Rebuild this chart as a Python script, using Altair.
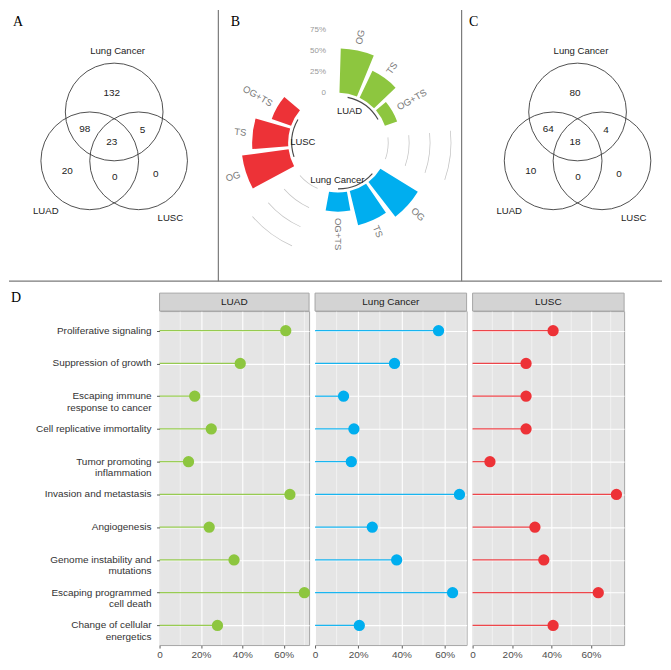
import altair as alt
import pandas as pd

FONT = "Liberation Sans"
SERIF = "Liberation Serif"

# ---------------- Panels A and C: Venn diagrams ----------------
venn_sets = ["Lung Cancer", "LUAD", "LUSC"]
venn_circle_x = [0.0, -0.5, 0.5]          # in circle-radius units
venn_circle_y = [0.0, -1.0, -1.0]
venn_setlabel_x = [0.07, -1.40, 1.15]
venn_setlabel_y = [1.24, -2.03, -2.17]

venn_regions = ["LC only", "LC+LUAD", "LC+LUSC", "LC+LUAD+LUSC", "LUAD only", "LUAD+LUSC", "LUSC only"]
venn_region_x = [-0.05, -0.60, 0.58, -0.05, -0.96, 0.01, 0.85]
venn_region_y = [0.38, -0.35, -0.36, -0.61, -1.20, -1.34, -1.27]
venn_A_counts = [132, 98, 5, 23, 20, 0, 0]
venn_C_counts = [80, 64, 4, 18, 10, 0, 0]

# ---------------- Panel B: circular bar chart ----------------
groups = ["LUAD", "Lung Cancer", "LUSC"]
gene_types = ["OG", "TS", "OG+TS"]
luad_type_pct = [0.53, 0.355, 0.155]
lc_type_pct = [0.525, 0.42, 0.23]
lusc_type_pct = [0.56, 0.43, 0.245]
radial_ticks = [0, 0.25, 0.5, 0.75]
radial_tick_labels = ["0", "25%", "50%", "75%"]
group_label_slot = [0.83, 7.54, 11.29]
group_label_r = [-0.19, -0.15, -0.175]

# ---------------- Panel D: lollipops ----------------
hallmarks = [
    "Proliferative signaling",
    "Suppression of growth",
    "Escaping immune\nresponse to cancer",
    "Cell replicative immortality",
    "Tumor promoting\ninflammation",
    "Invasion and metastasis",
    "Angiogenesis",
    "Genome instability and\nmutations",
    "Escaping programmed\ncell death",
    "Change of cellular\nenergetics",
]
luad_pct = [0.61, 0.39, 0.17, 0.25, 0.14, 0.63, 0.24, 0.36, 0.70, 0.28]
lc_pct = [0.572, 0.368, 0.132, 0.18, 0.168, 0.669, 0.265, 0.378, 0.637, 0.205]
lusc_pct = [0.408, 0.271, 0.271, 0.271, 0.088, 0.729, 0.316, 0.361, 0.637, 0.408]
major_ticks = [0, 0.2, 0.4, 0.6]
minor_grid = [0.1, 0.3, 0.5, 0.7]

group_colors = ["#8DC63F", "#00AEEF", "#ED3237"]

TOP_W, TOP_H = 655, 272
SEP_COLOR = "#7a7a7a"
ONE = alt.Data(values=[{}])


def rule_h(x0, x1, y):
    return alt.Chart(ONE).mark_rule(color=SEP_COLOR, strokeWidth=1.2).encode(
        x=alt.value(x0), x2=alt.value(x1), y=alt.value(y))


def rule_v(x, y0, y1):
    return alt.Chart(ONE).mark_rule(color=SEP_COLOR, strokeWidth=1.2).encode(
        x=alt.value(x), y=alt.value(y0), y2=alt.value(y1))


def letter(ch, x, y):
    return alt.Chart(ONE).mark_text(text=ch, font=SERIF, fontSize=14, color="black",
                                    align="center", baseline="middle").encode(
        x=alt.value(x), y=alt.value(y))


# ---------------- Venn ----------------
VENN_R = 49.0
VENN_CY = 102.3
venn_ys = alt.Scale(domain=[-(TOP_H - VENN_CY) / VENN_R, VENN_CY / VENN_R], nice=False, zero=False)


def venn_layers(counts, x0, width, cx):
    xs = alt.Scale(domain=[-cx / VENN_R, (width - cx) / VENN_R], range=[x0, x0 + width],
                   nice=False, zero=False)
    circ = pd.DataFrame({"set": venn_sets, "x": venn_circle_x, "y": venn_circle_y,
                         "lx": venn_setlabel_x, "ly": venn_setlabel_y})
    reg = pd.DataFrame({"region": venn_regions, "x": venn_region_x, "y": venn_region_y, "n": counts})
    circles = alt.Chart(circ).mark_point(shape="circle", size=(2 * VENN_R) ** 2, filled=False,
                                         color="#3c3c3c", strokeWidth=0.9, opacity=1).encode(
        x=alt.X("x:Q", scale=xs, axis=None), y=alt.Y("y:Q", scale=venn_ys, axis=None))
    setlab = alt.Chart(circ).mark_text(fontSize=9.6, color="#222222").encode(
        x=alt.X("lx:Q", scale=xs, axis=None), y=alt.Y("ly:Q", scale=venn_ys, axis=None), text="set:N")
    nums = alt.Chart(reg).mark_text(fontSize=10, color="#222222").encode(
        x=alt.X("x:Q", scale=xs, axis=None), y=alt.Y("y:Q", scale=venn_ys, axis=None), text="n:Q")
    return [circles, setlab, nums]


A_layers = venn_layers(venn_A_counts, 0, 210, 105.5)
C_layers = venn_layers(venn_C_counts, 450, 205, 120.3)

# ---------------- Circular bars ----------------
BCX, BCY = 330, 133
R_IN, R_PER = 50.0, 84.0
theta_scale = alt.Scale(domain=[0, 15], range=[0, 6.283185307179586], nice=False, zero=False)
radius_scale = alt.Scale(type="linear", domain=[0, 1], range=[R_IN, R_IN + R_PER], nice=False, zero=False)

rows = []
for gi, (g, vals) in enumerate(zip(groups, [luad_type_pct, lc_type_pct, lusc_type_pct])):
    for ti, (t, v) in enumerate(zip(gene_types, vals)):
        s = gi * 5 + ti
        deg = (s + 0.5) * 24
        left = deg <= 180
        ang = (deg - 90) if left else (deg - 270)
        rows.append(dict(group=g, type=t, pct=v, base=0.0, s0=s + 0.07, s1=s + 0.93,
                         smid=s + 0.5, lr=v + 0.075, ang=ang % 360, left=left))
bars_df = pd.DataFrame(rows)

garc = pd.DataFrame({"group": groups,
                     "t0": [gi * 5 + 0.5 for gi in range(3)],
                     "t1": [gi * 5 + 2.5 for gi in range(3)],
                     "r0": [-0.05] * 3, "r1": [-0.036] * 3,
                     "lt": group_label_slot, "lr": group_label_r})
grid_rows = []
for gap in [3.5, 8.5]:
    for v in radial_ticks:
        grid_rows.append(dict(t0=gap, t1=gap + 1.05, r0=v, r1=v + 0.009))
grid_df = pd.DataFrame(grid_rows)
rtick_df = pd.DataFrame({"v": radial_ticks, "lab": radial_tick_labels, "t": [0.0] * 4})

color_enc = alt.Color("group:N", scale=alt.Scale(domain=groups, range=group_colors), legend=None)
cx_enc = alt.value(BCX)
cy_enc = alt.value(BCY)

grid_arcs = alt.Chart(grid_df).mark_arc(color="#c4c4c4").encode(
    x=cx_enc, y=cy_enc,
    theta=alt.Theta("t0:Q", scale=theta_scale), theta2="t1:Q",
    radius=alt.Radius("r1:Q", scale=radius_scale), radius2="r0:Q")
group_arcs = alt.Chart(garc).mark_arc(color="#4a4a4a").encode(
    x=cx_enc, y=cy_enc,
    theta=alt.Theta("t0:Q", scale=theta_scale), theta2="t1:Q",
    radius=alt.Radius("r1:Q", scale=radius_scale), radius2="r0:Q")
bars = alt.Chart(bars_df).mark_arc().encode(
    x=cx_enc, y=cy_enc,
    theta=alt.Theta("s0:Q", scale=theta_scale), theta2="s1:Q",
    radius=alt.Radius("pct:Q", scale=radius_scale), radius2="base:Q", color=color_enc)
lab_l = alt.Chart(bars_df).transform_filter("datum.left").mark_text(
    align="left", baseline="middle", fontSize=9.5, color="#7a7a7a").encode(
    x=cx_enc, y=cy_enc,
    theta=alt.Theta("smid:Q", scale=theta_scale, stack=None),
    radius=alt.Radius("lr:Q", scale=radius_scale), angle=alt.Angle("ang:Q", scale=None), text="type:N")
lab_r = alt.Chart(bars_df).transform_filter("!datum.left").mark_text(
    align="right", baseline="middle", fontSize=9.5, color="#7a7a7a").encode(
    x=cx_enc, y=cy_enc,
    theta=alt.Theta("smid:Q", scale=theta_scale, stack=None),
    radius=alt.Radius("lr:Q", scale=radius_scale), angle=alt.Angle("ang:Q", scale=None), text="type:N")
glab = alt.Chart(garc).mark_text(fontSize=9.5, color="#222222", align="center", baseline="middle").encode(
    x=cx_enc, y=cy_enc,
    theta=alt.Theta("lt:Q", scale=theta_scale, stack=None),
    radius=alt.Radius("lr:Q", scale=radius_scale), text="group:N")
rticks = alt.Chart(rtick_df).mark_text(fontSize=8, color="#9a9a9a", align="right", baseline="middle", dx=-12).encode(
    x=cx_enc, y=cy_enc,
    theta=alt.Theta("t:Q", scale=theta_scale, stack=None),
    radius=alt.Radius("v:Q", scale=radius_scale), text="lab:N")

top = alt.layer(
    *A_layers, *C_layers,
    grid_arcs, group_arcs, bars, lab_l, lab_r, glab, rticks,
    letter("A", 9, 12), letter("B", 227, 12), letter("C", 466, 12),
    rule_v(210, 0, TOP_H), rule_v(454, 0, TOP_H), rule_h(0, TOP_W, TOP_H),
).resolve_scale(x="independent").properties(width=TOP_W, height=TOP_H)

# ---------------- Lollipop panels ----------------
P_H = 335
ys = alt.Scale(type="point", domain=hallmarks, padding=0.6)


def lolli(values, name, color, width, xmax, ticks):
    df = pd.DataFrame({"hallmark": hallmarks, "pct": values, "zero": [0.0] * len(values)})
    xs = alt.Scale(domain=[0, xmax], nice=False, zero=False)
    xax = alt.Axis(values=major_ticks, labelExpr="datum.value == 0 ? '0' : format(datum.value, '.0%')",
                   grid=True, gridColor="white", gridWidth=1.1, ticks=True, tickSize=3,
                   tickColor="#333333", tickWidth=0.8, domain=False, labelColor="#4d4d4d",
                   labelFontSize=10, labelPadding=1, labelFlush=False, labelOverlap=False, title=None)
    yax = alt.Axis(grid=True, gridColor="white", gridWidth=1.1, labels=False, ticks=ticks, tickSize=3,
                   tickColor="#333333", tickWidth=0.8, domain=False, title=None)
    minor = alt.Chart(pd.DataFrame({"g": minor_grid})).mark_rule(color="white", strokeWidth=0.5).encode(
        x=alt.X("g:Q", scale=xs, axis=xax))
    seg = alt.Chart(df).mark_rule(color=color, strokeWidth=1.3, opacity=0.9).encode(
        x=alt.X("zero:Q", scale=xs, axis=xax), x2="pct:Q",
        y=alt.Y("hallmark:N", scale=ys, axis=yax))
    dots = alt.Chart(df).mark_circle(color=color, size=128, opacity=1).encode(
        x=alt.X("pct:Q", scale=xs, axis=xax), y=alt.Y("hallmark:N", scale=ys, axis=yax))
    strip = alt.Chart(ONE).mark_rect(fill="#D3D3D3", stroke="#A6A6A6", strokeWidth=1).encode(
        x=alt.value(0), x2=alt.value(width), y=alt.value(-18), y2=alt.value(0))
    stext = alt.Chart(ONE).mark_text(text=name, fontSize=10, color="#1a1a1a", align="center",
                                     baseline="middle").encode(x=alt.value(width / 2), y=alt.value(-9))
    return alt.layer(minor, seg, dots, strip, stext).properties(
        width=width, height=P_H, view=alt.ViewBackground(fill="#E5E5E5", stroke="#A6A6A6", strokeWidth=1))


P1 = lolli(luad_pct, "LUAD", group_colors[0], 150, 0.7227, True)
P2 = lolli(lc_pct, "Lung Cancer", group_colors[1], 152, 0.702, False)
P3 = lolli(lusc_pct, "LUSC", group_colors[2], 152, 0.768, False)

lab_df = pd.DataFrame({"hallmark": hallmarks})
ylabels = alt.Chart(lab_df).mark_text(align="right", baseline="top", dy=-5, fontSize=10, lineBreak="\n",
                                      lineHeight=11.5, color="#333333").encode(
    x=alt.value(143), y=alt.Y("hallmark:N", scale=ys, axis=None), text="hallmark:N")
labels_chart = alt.layer(ylabels, letter("D", 7, -13)).properties(width=145, height=P_H)

bottom = alt.hconcat(labels_chart, P1, P2, P3, spacing=6, bounds="flush").resolve_scale(
    x="independent", y="independent")

chart = alt.vconcat(top, bottom, spacing=30, bounds="flush").resolve_scale(
    x="independent", y="independent").properties(padding=0).configure(font=FONT).configure_view(stroke=None)

chart.save("out.html", embed_options={"renderer": "svg", "actions": False})
